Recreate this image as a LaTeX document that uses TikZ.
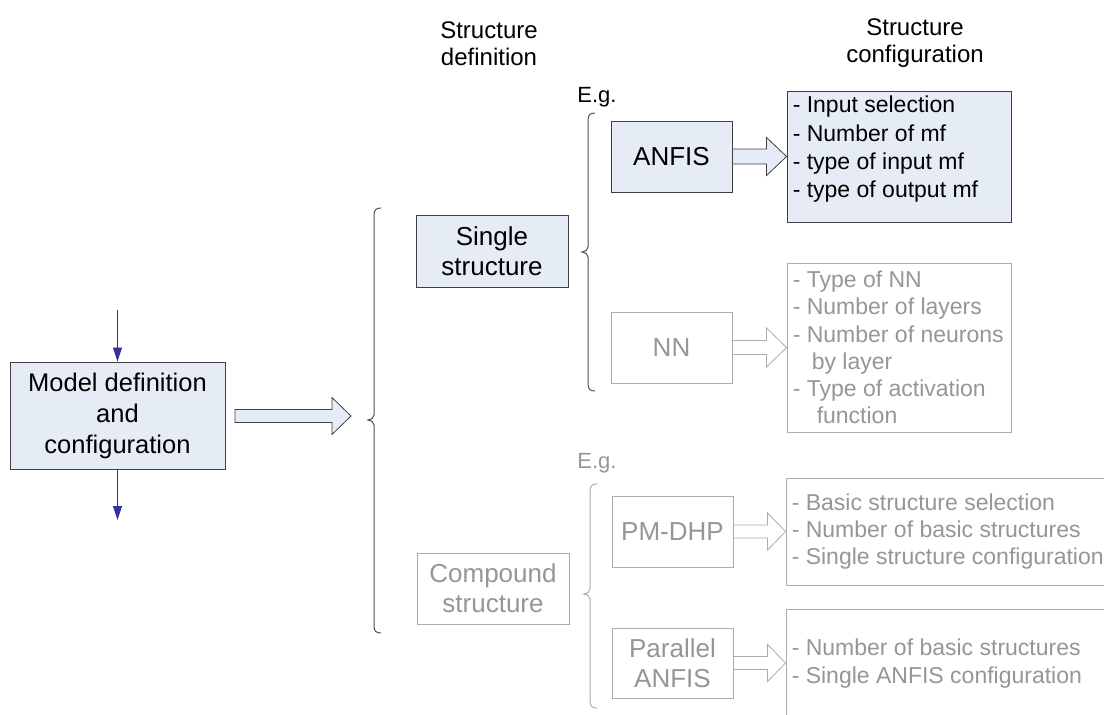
\documentclass[tikz,border=0pt]{standalone}
\usepackage{fontspec}
\setmainfont{Liberation Sans}
\usetikzlibrary{arrows.meta,calc}

\definecolor{boxfill}{RGB}{230,236,246}
\definecolor{boxline}{RGB}{64,64,64}
\definecolor{greyline}{RGB}{172,172,172}
\definecolor{greytext}{RGB}{150,150,150}
\definecolor{flowblue}{RGB}{51,51,153}
\definecolor{bracedark}{RGB}{80,80,80}

% hollow block arrow: style, from, to, head length, shaft half-height, head half-height
\newcommand\fatarrow[6]{%
  \draw[#1] let \p1=(#2), \p2=(#3) in
    (\x1,\y1+#5pt) -- (\x2-#4pt,\y1+#5pt) -- (\x2-#4pt,\y1+#6pt) -- (\x2,\y1)
    -- (\x2-#4pt,\y1-#6pt) -- (\x2-#4pt,\y1-#5pt) -- (\x1,\y1-#5pt) -- cycle;}

% left curly brace: style, x, top, tip, bottom
\newcommand\bracepath[5]{%
  \draw[#1] (#2+7,#3) .. controls (#2+2,#3) and (#2,#3+2) .. (#2,#3+7)
    -- (#2,#4-5) .. controls (#2,#4-2) and (#2-3,#4) .. (#2-6,#4)
    .. controls (#2-3,#4) and (#2,#4+2) .. (#2,#4+5)
    -- (#2,#5-7) .. controls (#2,#5-2) and (#2+2,#5) .. (#2+7,#5);}

\tikzset{
  darkbox/.style={draw=boxline, fill=boxfill, line width=0.9pt, inner sep=0pt,
    font=\fontsize{26}{30}\selectfont, align=center},
  greybox/.style={draw=greyline, fill=white, text=greytext, line width=0.9pt, inner sep=0pt,
    font=\fontsize{26}{30}\selectfont, align=center},
  cfgdark/.style={anchor=west, inner sep=0pt, align=left, font=\fontsize{23}{28.3}\selectfont},
  cfggrey/.style={anchor=west, inner sep=0pt, align=left, text=greytext, font=\fontsize{23}{27.3}\selectfont},
  fatdark/.style={draw=boxline, fill=boxfill, line width=0.8pt, line join=miter},
  fatgrey/.style={draw=greyline, fill=white, line width=0.8pt, line join=miter},
  flow/.style={draw=flowblue, line width=0.8pt, -{Triangle[length=14pt,width=9pt]}},
  header/.style={align=center, font=\fontsize{24}{27}\selectfont},
  eg/.style={font=\fontsize{22}{26}\selectfont},
}

\begin{document}
\begin{tikzpicture}[x=1pt, y=-1pt]
\useasboundingbox (0,0) rectangle (1104,715);

% column headers
\node[header] (hdef) at (489,43.5) {Structure\\definition};
\node[header] (hcfg) at (915,43.5) {Structure\\configuration};

% model block with its flow in and out
\node[darkbox, minimum width=215pt, minimum height=107pt, font=\fontsize{25.5}{31}\selectfont]
  (model) at (117.5,415.5) {Model definition\\and\\configuration};
\coordinate (flowin) at (117.5,310);
\coordinate (flowout) at (117.5,520);
\draw[flow] (flowin) -- (model.north);
\draw[flow] (model.south) -- (flowout);

% main arrow to the structure choice
\coordinate (bigstart) at (235,416);
\coordinate (bigtip) at (351,416);
\fatarrow{fatdark}{bigstart}{bigtip}{19}{6.5}{18.5}
\bracepath{bracedark, line width=1pt}{374}{208}{420}{633}

% single structure branch
\node[darkbox, minimum width=152pt, minimum height=72pt] (single) at (492,251) {Single\\structure};
\node[eg] (eg1) at (597,97) {E.g.};
\bracepath{bracedark, line width=1pt}{588}{113}{252}{391}

\node[darkbox, minimum width=121pt, minimum height=71pt] (anfis) at (671.5,156.5) {ANFIS};
\node[darkbox, minimum width=224pt, minimum height=131pt] (anfiscfg) at (899,156.5) {};
\node[cfgdark] (anfistxt) at ($(anfiscfg.west)+(6,-7)$)
  {- Input selection\\- Number of mf\\- type of input mf\\- type of output mf};
\fatarrow{fatdark}{anfis.east}{anfiscfg.west}{20}{7.5}{19}

\node[greybox, minimum width=121pt, minimum height=71pt] (nn) at (671.5,347.5) {NN};
\node[greybox, minimum width=224pt, minimum height=169pt] (nncfg) at (899,347.5) {};
\node[cfggrey] (nntxt) at ($(nncfg.west)+(6,0)$)
  {- Type of NN\\- Number of layers\\- Number of neurons\\\hspace*{19pt}by layer\\- Type of activation\\\hspace*{24pt}function};
\fatarrow{fatgrey}{nn.east}{nncfg.west}{20}{7}{19.5}

% compound structure branch
\node[greybox, minimum width=152pt, minimum height=71pt] (compound) at (493,588.5) {Compound\\structure};
\node[eg, text=greytext] (eg2) at (597,463) {E.g.};
\bracepath{greyline, line width=1pt}{590}{484}{594}{708}

\node[greybox, minimum width=121pt, minimum height=71pt] (pmdhp) at (672.5,531.5) {PM-DHP};
\node[greybox, minimum width=326pt, minimum height=107pt] (pmcfg) at (949,531.5) {};
\node[cfggrey] (pmtxt) at ($(pmcfg.west)+(6,0)$)
  {- Basic structure selection\\- Number of basic structures\\- Single structure configuration};
\fatarrow{fatgrey}{pmdhp.east}{pmcfg.west}{18}{6.5}{18.5}

\node[greybox, minimum width=121pt, minimum height=70pt] (parallel) at (672.5,663) {Parallel\\ANFIS};
\node[greybox, minimum width=326pt, minimum height=109pt] (parcfg) at (949,663.5) {};
\node[cfggrey] (partxt) at ($(parcfg.west)+(6,0)$)
  {- Number of basic structures\\- Single ANFIS configuration};
\fatarrow{fatgrey}{parallel.east}{parcfg.west}{18}{6.5}{18.5}
\end{tikzpicture}
\end{document}
